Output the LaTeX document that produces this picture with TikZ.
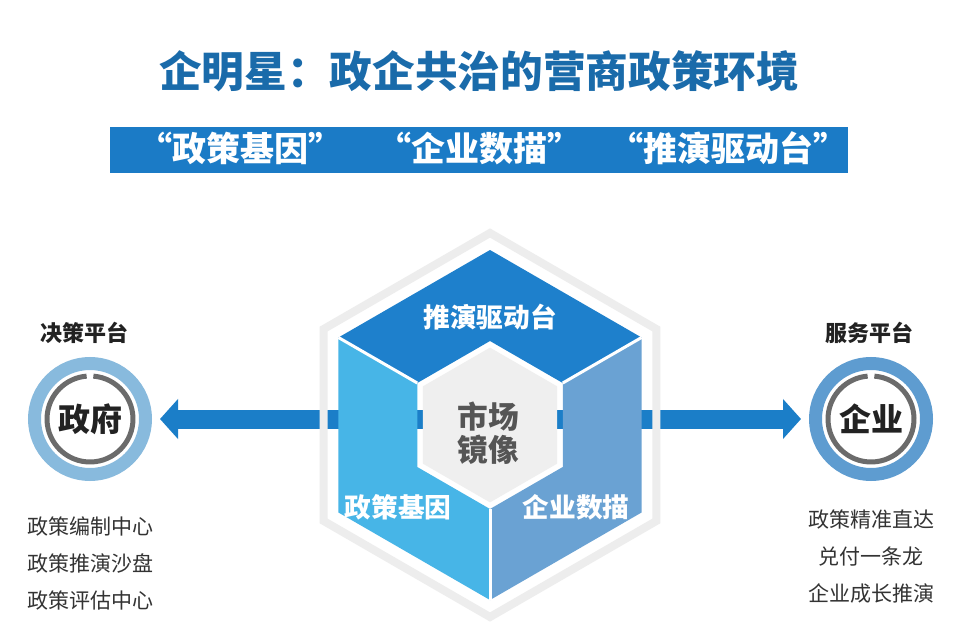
\documentclass[tikz,border=0pt]{standalone}
\usepackage{fontspec}
\setmainfont{Noto Sans CJK SC}
\usetikzlibrary{positioning, calc, arrows.meta}

\definecolor{titleblue}{HTML}{1A6BAA}
\definecolor{bandblue}{HTML}{1B7BC6}
\definecolor{arrowblue}{HTML}{1B7EC8}
\definecolor{topblue}{HTML}{1E80CC}
\definecolor{leftblue}{HTML}{47B5E7}
\definecolor{rightblue}{HTML}{6AA2D3}
\definecolor{coregray}{HTML}{EFEFEF}
\definecolor{ringgray}{HTML}{EDEDED}
\definecolor{govring}{HTML}{88BADD}
\definecolor{entring}{HTML}{5E9CD0}
\definecolor{darkring}{HTML}{6B6B6B}
\definecolor{textdark}{HTML}{222222}
\definecolor{textgray}{HTML}{333333}
\definecolor{coretext}{HTML}{555555}

\tikzset{
  headline/.style={font=\bfseries\fontsize{32}{36}\selectfont, text=titleblue, inner sep=0pt},
  band/.style={fill=bandblue, minimum width=553.5pt, minimum height=34.5pt, inner sep=0pt},
  bandtext/.style={font=\bfseries\fontsize{25.5}{30}\selectfont, text=white, inner sep=0pt},
  govnode/.style={circle, draw=govring, line width=9.75pt, minimum size=83.25pt, inner sep=0pt,
    font=\bfseries\fontsize{24}{28}\selectfont, text=textdark},
  entnode/.style={govnode, draw=entring},
  gapring/.style={draw=darkring, line width=3.75pt},
  platform/.style={font=\bfseries\fontsize{16.5}{20}\selectfont, text=textdark, inner sep=0pt},
  listtext/.style={font=\fontsize{15.75}{27.75}\selectfont, text=textgray, align=center, inner sep=0pt},
  flow/.style={draw=arrowblue, line width=14.25pt, -{Triangle[length=13.5pt, width=29.25pt]}, shorten >=6pt},
  hexring/.style={draw=ringgray, line width=6pt},
  seam/.style={draw=white, line width=2.25pt},
  facetext/.style={font=\bfseries\fontsize{20}{24}\selectfont, text=white, inner sep=0pt},
  coretextstyle/.style={font=\bfseries\fontsize{23}{25}\selectfont, text=coretext, align=center, inner sep=0pt}
}

\begin{document}
\begin{tikzpicture}[x=0.75pt, y=-0.75pt]

% Background and bounding box
\fill[white] (0,0) rectangle (960,631);
\useasboundingbox (0,0) rectangle (960,631);

% Title
\node[headline] (title) at (479,71) {企明星：政企共治的营商政策环境};

% Band with three keywords
\node[band] (band) at (479,150) {};
\node[bandtext] (gene) at (240,148) {“政策基因”};
\node[bandtext] (scan) at (479,148) {“企业数描”};
\node[bandtext] (drive) at (728,148) {“推演驱动台”};

% Side circles
\node[govnode] (gov) at (90,419) {政府};
\node[entnode] (ent) at (871,419) {企业};
\draw[gapring] ($(gov)+(-85.5:43)$) arc[start angle=-85.5, end angle=265.5, radius=43];
\draw[gapring] ($(ent)+(-85.5:43)$) arc[start angle=-85.5, end angle=265.5, radius=43];

% Platform labels
\node[platform] (govplat) at (84,333) {决策平台};
\node[platform] (entplat) at (869,333) {服务平台};

% Lists
\node[listtext] (govlist) at (90,563) {政策编制中心\\政策推演沙盘\\政策评估中心};
\node[listtext] (entlist) at (871,557) {政策精准直达\\兑付一条龙\\企业成长推演};

% Arrows
\coordinate (hexc) at (490,419);
\draw[flow] (hexc) -- (gov);
\draw[flow] (hexc) -- (ent);

% Hexagon
\begin{scope}[shift={(490,425)}]
\draw[hexring] (270:192) \foreach \a in {330,30,90,150,210} {-- (\a:192)} -- cycle;
\fill[topblue] (210:175) -- (270:175) -- (330:175) -- (330:84) -- (270:84) -- (210:84) -- cycle;
\fill[rightblue] (330:175) -- (30:175) -- (90:175) -- (90:84) -- (30:84) -- (330:84) -- cycle;
\fill[leftblue] (90:175) -- (150:175) -- (210:175) -- (210:84) -- (150:84) -- (90:84) -- cycle;
\foreach \a in {210,330,90} \draw[seam] (\a:175) -- (\a:84);
\fill[coregray] (270:77.4) \foreach \a in {330,30,90,150,210} {-- (\a:77.4)} -- cycle;
\end{scope}

% Hexagon labels
\node[facetext] (toplab) at (490,317) {推演驱动台};
\node[facetext] (leftlab) at (398,507) {政策基因};
\node[facetext] (rightlab) at (576,507) {企业数描};
\node[coretextstyle] (core) at (488,433) {市场\\镜像};

\end{tikzpicture}
\end{document}
